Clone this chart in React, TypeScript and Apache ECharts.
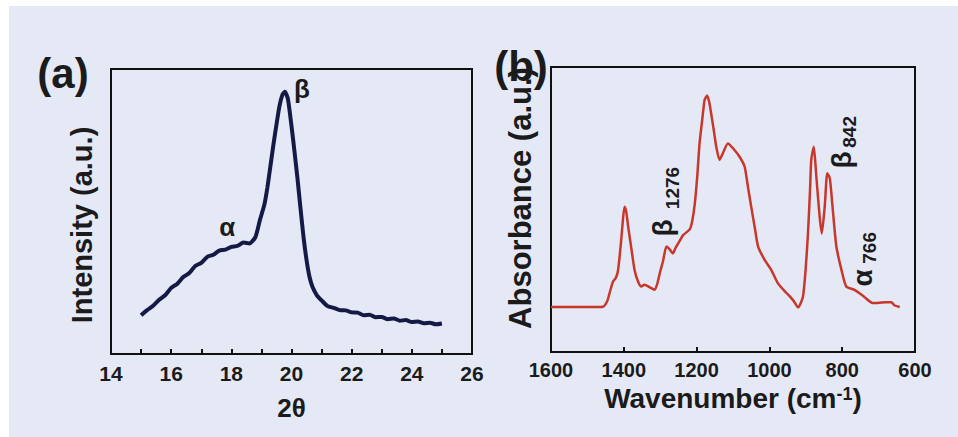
import React, { useEffect, useRef } from "react";
import * as echarts from "echarts";

// ---- Panel (a): XRD ----
const xrdTheta = [
  15.0, 15.2, 15.4, 15.6, 15.8, 16.0, 16.2, 16.4, 16.6, 16.8, 17.0, 17.2, 17.4, 17.6, 17.8, 18.0,
  18.2, 18.4, 18.6, 18.8, 18.95, 19.1, 19.2, 19.3, 19.4, 19.5, 19.6, 19.7, 19.78, 19.88, 20.0,
  20.1, 20.2, 20.3, 20.4, 20.5, 20.6, 20.7, 20.85, 21.0, 21.2, 21.4, 21.6, 21.8, 22.0, 22.2, 22.4,
  22.6, 22.8, 23.0, 23.2, 23.4, 23.6, 23.8, 24.0, 24.2, 24.4, 24.6, 24.8, 25.0,
];
const xrdIntensity = [
  13.6, 15.4, 16.9, 19.0, 20.6, 23.2, 24.6, 27.0, 28.4, 30.9, 32.0, 34.1, 34.8, 36.3, 36.6, 37.6,
  37.9, 39.1, 38.8, 41.0, 47.0, 52.5, 58.5, 66.0, 73.5, 80.5, 87.0, 91.0, 92.0, 89.5, 80.0,
  71.0, 61.5, 51.0, 41.0, 33.0, 27.0, 23.5, 20.5, 18.8, 16.8, 16.2, 15.4, 15.3, 14.6, 14.5, 13.6,
  13.8, 12.9, 13.0, 12.2, 12.5, 11.7, 11.9, 11.2, 11.4, 10.8, 11.0, 10.4, 10.7,
];
const xrdTickValues = [14, 16, 18, 20, 22, 24, 26];

// ---- Panel (b): FTIR ----
const ftirWavenumber = [
  1600, 1560, 1520, 1480, 1457, 1445, 1439, 1430, 1422, 1416, 1408, 1402, 1398, 1393, 1388, 1380,
  1370, 1360, 1352, 1343, 1330, 1315, 1308, 1301, 1292, 1283, 1274, 1265, 1258, 1251, 1237, 1219,
  1212, 1205, 1198, 1192, 1185, 1178, 1171, 1165, 1160, 1153, 1146, 1137, 1128, 1114, 1100, 1082,
  1068, 1059, 1050, 1040, 1031, 1013, 995, 976, 953, 935, 921, 908, 901, 894, 888, 885, 878, 871,
  862, 856, 848, 841, 834, 825, 816, 802, 789, 766, 740, 717, 702, 680, 665, 657, 642,
];
const ftirAbsorbance = [
  15.8, 15.8, 15.8, 15.8, 15.9, 18.0, 20.7, 24.6, 26.0, 28.5, 38.0, 47.0, 51.0, 49.0, 44.0, 37.0,
  28.5, 24.5, 23.0, 23.6, 22.8, 21.8, 24.0, 27.7, 32.0, 37.0, 36.0, 34.6, 36.5, 38.0, 41.0, 43.0,
  46.0, 52.0, 62.0, 73.0, 81.0, 88.4, 90.0, 87.5, 83.7, 78.0, 72.0, 67.4, 69.7, 73.2, 71.5, 68.5,
  65.0, 58.0, 51.0, 43.5, 37.0, 32.3, 28.8, 24.0, 20.7, 18.2, 15.6, 19.3, 28.0, 41.6, 58.0, 67.4, 72.0, 61.5,
  47.5, 41.6, 51.0, 62.7, 61.0, 48.7, 37.0, 28.8, 23.0, 21.8, 19.4, 17.2, 17.2, 17.5, 17.5, 16.4, 15.8,
];
const ftirTickValues = [1600, 1400, 1200, 1000, 800, 600];

// ---- Peak annotations (data coordinates of the symbol; subscript offset is a style) ----
const annotations = [
  { grid: 0, x: 17.86, y: 44.6, main: "α", sub: "", vertical: false, subDx: 0, subDy: 0 },
  { grid: 0, x: 20.35, y: 93, main: "β", sub: "", vertical: false, subDx: 0, subDy: 0 },
  { grid: 1, x: 1295, y: 43.5, main: "β", sub: "1276", vertical: true, subDx: 10, subDy: -40 },
  { grid: 1, x: 801, y: 67.4, main: "β", sub: "842", vertical: true, subDx: 8, subDy: -28 },
  { grid: 1, x: 743, y: 26, main: "α", sub: "766", vertical: true, subDx: 7, subDy: -30 },
];

const FONT = "'Liberation Sans', Arial, sans-serif";
const INK = "#1b1b1b";
const BG = "#e5e9f6";

export default function App() {
  const ref = useRef<HTMLDivElement>(null);

  useEffect(() => {
    document.body.style.margin = "0";
    document.body.style.background = "#ffffff";
    const chart = echarts.init(ref.current!, null, { renderer: "svg" });

    const labelStyle = { fontFamily: FONT, fontSize: 20, fontWeight: "bold", color: INK };

    chart.setOption({
      animation: false,
      backgroundColor: "transparent",
      grid: [
        { left: 111, top: 69, width: 361, height: 285, show: true, borderColor: "#111", borderWidth: 2, backgroundColor: "transparent" },
        { left: 551, top: 67, width: 364, height: 285, show: true, borderColor: "#111", borderWidth: 2, backgroundColor: "transparent" },
      ],
      xAxis: [
        {
          type: "value", gridIndex: 0, min: 14, max: 26, interval: 2,
          axisLine: { show: false },
          axisTick: { show: true, inside: true, length: 5, lineStyle: { color: "#111", width: 2 } },
          minorTick: { show: true, splitNumber: 2, length: 5, lineStyle: { color: "#111", width: 2 } },
          splitLine: { show: false },
          axisLabel: { ...labelStyle, fontSize: 21, margin: 9, formatter: (v: number) => (xrdTickValues.includes(v) ? String(v) : "") },
          name: "2θ", nameLocation: "middle", nameGap: 41,
          nameTextStyle: { fontFamily: FONT, fontSize: 26, fontWeight: "bold", color: INK },
        },
        {
          type: "value", gridIndex: 1, min: 600, max: 1600, interval: 200, inverse: true,
          axisLine: { show: false },
          axisTick: { show: true, inside: true, length: 5, lineStyle: { color: "#111", width: 2 } },
          splitLine: { show: false },
          axisLabel: { ...labelStyle, margin: 8, formatter: (v: number) => (ftirTickValues.includes(v) ? String(v) : "") },
          name: "Wavenumber (cm{sup|-1})", nameLocation: "middle", nameGap: 28,
          nameTextStyle: {
            fontFamily: FONT, fontSize: 28, fontWeight: "bold", color: INK,
            rich: { sup: { fontFamily: FONT, fontSize: 18, fontWeight: "bold", color: INK, verticalAlign: "top", lineHeight: 16 } },
          },
        },
      ],
      yAxis: [
        { type: "value", gridIndex: 0, min: 0, max: 100, axisLine: { show: false }, axisTick: { show: false }, axisLabel: { show: false }, splitLine: { show: false } },
        { type: "value", gridIndex: 1, min: 0, max: 100, axisLine: { show: false }, axisTick: { show: false }, axisLabel: { show: false }, splitLine: { show: false } },
      ],
      series: [
        {
          type: "line", xAxisIndex: 0, yAxisIndex: 0, showSymbol: false, smooth: 0.2,
          lineStyle: { color: "#141a45", width: 4 },
          data: xrdTheta.map((t, i) => [t, xrdIntensity[i]]),
        },
        {
          type: "line", xAxisIndex: 1, yAxisIndex: 1, showSymbol: false, smooth: 0.2,
          lineStyle: { color: "#c8372b", width: 2.5 },
          data: ftirWavenumber.map((w, i) => [w, ftirAbsorbance[i]]),
        },
      ],
    });

    const annoGraphics: any[] = [];
    annotations.forEach((a) => {
      const p = chart.convertToPixel({ gridIndex: a.grid }, [a.x, a.y]) as number[];
      const rot = a.vertical ? Math.PI / 2 : 0;
      annoGraphics.push({
        type: "text", x: p[0], y: p[1], rotation: rot, z: 10,
        style: { text: a.main, fontFamily: FONT, fontSize: a.vertical ? 28 : 26, fontWeight: "bold", fill: INK, align: "center", verticalAlign: "middle" },
      });
      if (a.sub) {
        annoGraphics.push({
          type: "text", x: p[0] + a.subDx, y: p[1] + a.subDy, rotation: rot, z: 10,
          style: { text: a.sub, fontFamily: FONT, fontSize: 19, fontWeight: "bold", fill: INK, align: "center", verticalAlign: "middle" },
        });
      }
    });

    chart.setOption({
      graphic: [
        { type: "rect", z: -10, shape: { x: 9, y: 6, width: 960, height: 440 }, style: { fill: BG } },
        { type: "text", x: 63, y: 73, style: { text: "(a)", fontFamily: FONT, fontSize: 42, fontWeight: "bold", fill: INK, align: "center", verticalAlign: "middle" } },
        { type: "text", x: 521, y: 66, z: 5, style: { text: "(b)", fontFamily: FONT, fontSize: 42, fontWeight: "bold", fill: INK, align: "center", verticalAlign: "middle" } },
        { type: "text", x: 82, y: 225, rotation: Math.PI / 2, style: { text: "Intensity (a.u.)", fontFamily: FONT, fontSize: 29, fontWeight: "bold", fill: INK, align: "center", verticalAlign: "middle" } },
        { type: "text", x: 520, y: 198, rotation: Math.PI / 2, style: { text: "Absorbance (a.u.)", fontFamily: FONT, fontSize: 31, fontWeight: "bold", fill: INK, align: "center", verticalAlign: "middle" } },
        ...annoGraphics,
      ],
    });

    return () => chart.dispose();
  }, []);

  return <div ref={ref} style={{ width: 958, height: 437 }} />;
}
